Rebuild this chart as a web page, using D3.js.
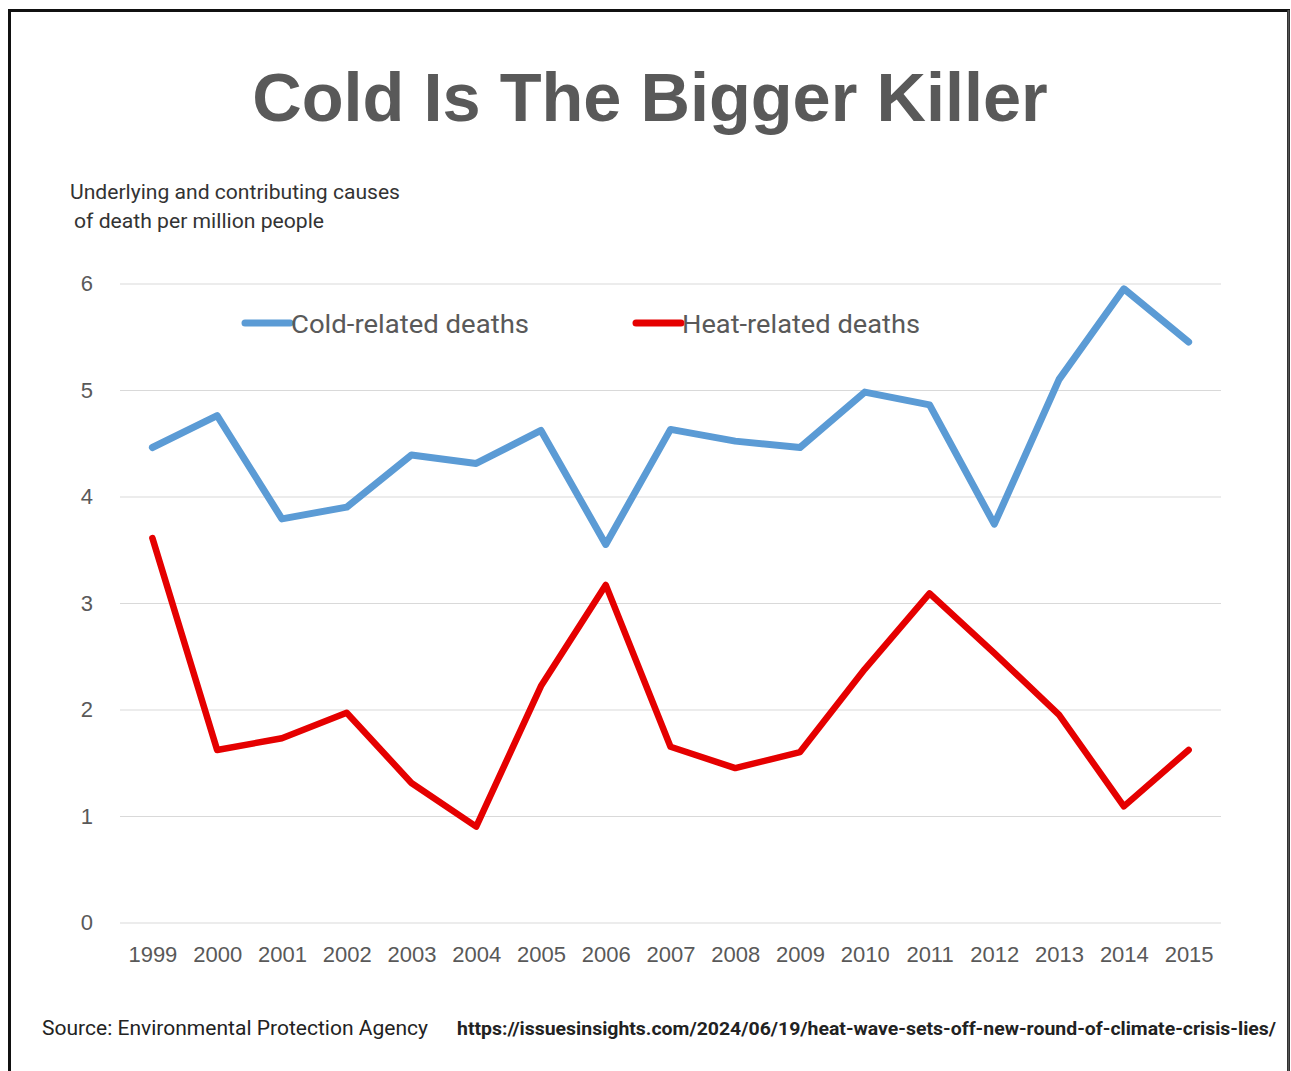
<!DOCTYPE html>
<html>
<head>
<meta charset="utf-8">
<script src="https://cdn.jsdelivr.net/npm/d3@7"></script>
<style>
html,body{margin:0;padding:0;background:#fff;}
svg{display:block;}
</style>
</head>
<body>
<svg id="chart" width="1291" height="1071"></svg>
<script>
const years = ["1999","2000","2001","2002","2003","2004","2005","2006","2007","2008","2009","2010","2011","2012","2013","2014","2015"];
const coldDeaths = [4.46,4.76,3.79,3.90,4.39,4.31,4.62,3.55,4.63,4.52,4.46,4.98,4.86,3.74,5.10,5.95,5.45];
const heatDeaths = [3.61,1.62,1.73,1.97,1.31,0.90,2.22,3.17,1.65,1.45,1.60,2.38,3.09,2.53,1.95,1.09,1.62];
const yTicks = [0,1,2,3,4,5,6];
const seriesNames = ["Cold-related deaths","Heat-related deaths"];
const seriesColors = ["#5B9BD5","#E50000"];

const svg = d3.select("#chart");

// frame
svg.append("rect").attr("x",9.5).attr("y",10.5).attr("width",1279).attr("height",1080)
  .attr("fill","none").attr("stroke","#111").attr("stroke-width",3);
svg.append("line").attr("x1",1288.5).attr("x2",1288.5).attr("y1",10).attr("y2",1071)
  .attr("stroke","#555").attr("stroke-width",2);

const plot = {left:120, right:1221, top:283.5, bottom:922.5};

const x = d3.scalePoint().domain(years).range([plot.left, plot.right]).padding(0.5);
const y = d3.scaleLinear().domain([0,6]).range([plot.bottom, plot.top]);

// title
svg.append("text").attr("x",650).attr("y",121).attr("text-anchor","middle")
  .attr("font-family","Liberation Sans, Arial, sans-serif").attr("font-weight","bold")
  .attr("font-size",68.5).attr("fill","#595959").text("Cold Is The Bigger Killer");

// axis title
const at = svg.append("g").attr("font-family","Roboto, sans-serif").attr("font-size",21).attr("fill","#333");
at.append("text").attr("x",70).attr("y",199).attr("textLength",330).attr("lengthAdjust","spacingAndGlyphs").text("Underlying and contributing causes");
at.append("text").attr("x",74).attr("y",228).attr("textLength",250).attr("lengthAdjust","spacingAndGlyphs").text("of death per million people");

// gridlines
const yAxis = d3.axisLeft(y).tickValues(yTicks).tickSize(-(plot.right-plot.left)).tickPadding(27).tickFormat(d3.format("d"));
const gy = svg.append("g").attr("transform",`translate(${plot.left},0)`).call(yAxis);
gy.select(".domain").remove();
gy.selectAll(".tick line").attr("stroke","#D9D9D9").attr("stroke-width",1.2);
gy.selectAll(".tick text").attr("font-family","Liberation Sans, Arial, sans-serif").attr("font-size",22).attr("fill","#595959");

// x axis
const xAxis = d3.axisBottom(x).tickSize(0).tickPadding(24);
const gx = svg.append("g").attr("transform",`translate(0,${plot.bottom})`).call(xAxis);
gx.select(".domain").remove();
gx.selectAll(".tick text").attr("font-family","Liberation Sans, Arial, sans-serif").attr("font-size",22).attr("fill","#595959");

// lines
const line = d3.line().x((d,i)=>x(years[i])).y(d=>y(d));
[coldDeaths, heatDeaths].forEach((s,i)=>{
  svg.append("path").datum(s).attr("d",line).attr("fill","none")
    .attr("stroke",seriesColors[i]).attr("stroke-width",i===0?7:6.5)
    .attr("stroke-linejoin","round").attr("stroke-linecap","round");
});

// legend
const legendX = [245, 636];
seriesNames.forEach((n,i)=>{
  const g = svg.append("g").attr("transform",`translate(${legendX[i]},323)`);
  g.append("line").attr("x1",0).attr("x2",45).attr("y1",0).attr("y2",0)
    .attr("stroke",seriesColors[i]).attr("stroke-width",7).attr("stroke-linecap","round");
  g.append("text").attr("x",46).attr("y",9.5).attr("font-family","Roboto, sans-serif")
    .attr("font-size",26.5).attr("fill","#595959")
    .attr("textLength",238).attr("lengthAdjust","spacingAndGlyphs").text(n);
});

// source
svg.append("text").attr("x",42).attr("y",1035).attr("font-family","Roboto, sans-serif")
  .attr("font-size",21).attr("fill","#222")
  .attr("textLength",386).attr("lengthAdjust","spacingAndGlyphs").text("Source: Environmental Protection Agency");
svg.append("text").attr("x",457).attr("y",1035).attr("font-family","Roboto, sans-serif")
  .attr("font-weight","bold").attr("font-size",17.5).attr("fill","#222")
  .attr("textLength",819).attr("lengthAdjust","spacingAndGlyphs")
  .text("https://issuesinsights.com/2024/06/19/heat-wave-sets-off-new-round-of-climate-crisis-lies/");
</script>
</body>
</html>
